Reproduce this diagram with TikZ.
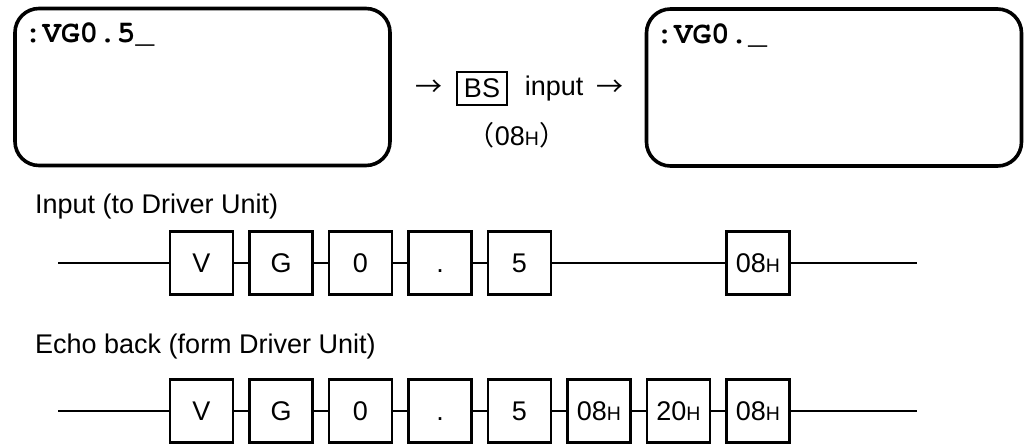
\documentclass[tikz,border=0pt]{standalone}
\usepackage{fontspec}
\setmainfont{Liberation Sans}
\newfontfamily\lcdfont{TeX Gyre Cursor}
\newfontfamily\cjk{Noto Sans CJK JP}
\usetikzlibrary{positioning}
\newcommand{\hexnum}[1]{#1{\fontsize{19.5}{19.5}\selectfont H}}

\begin{document}
\begin{tikzpicture}[
  x=1pt, y=-1pt,
  node distance=16.5pt,
  every node/.style={font=\fontsize{27}{30}\selectfont, inner sep=0pt},
  screen/.style={draw, line width=3.6pt, rounded corners=24pt, minimum width=375pt, minimum height=157pt},
  lcd/.style={font=\lcdfont\bfseries\fontsize{31}{31}\selectfont, anchor=base west},
  byte/.style={draw, line width=2.2pt, outer sep=0pt, minimum width=63pt, minimum height=63pt, text height=19pt, text depth=0pt},
  wire/.style={line width=2pt}
]
\useasboundingbox (0,0) rectangle (1031,445);

% display before and after BS
\node[screen] (before) at (202.5,87) {};
\node[screen] (after) at (834,87.5) {};
\node[lcd] (beforetxt) at ([xshift=10.5pt,yshift=-36pt]before.north west) {:VG0.5\_};
\node[lcd] (aftertxt) at ([xshift=10.5pt,yshift=-36pt]after.north west) {:VG0.\_};

\node[draw, line width=1.2pt, minimum width=50pt, minimum height=33pt] (bs) at (482,88.5) {BS};
\node (arrin) [left=14pt of bs] {\cjk →};
\node (inp) [right=17pt of bs] {input};
\node (arrout) [right=13pt of inp] {\cjk →};
\node (bscode) at (517,135) {{\cjk （}\hexnum{08}{\cjk ）}};

% input
\node[anchor=base west] (inlabel) at (35,213) {Input (to Driver Unit)};
\coordinate (inL) at (58,263);
\coordinate (inR) at (917,263);
\node[byte] (i1) at (201.5,263) {V};
\node[byte, right=of i1] (i2) {G};
\node[byte, right=of i2] (i3) {0};
\node[byte, right=of i3] (i4) {.};
\node[byte, right=of i4] (i5) {5};
\node[byte] (i6) at (758,263) {\hexnum{08}};
\draw[wire] (inL) -- (i1);
\draw[wire] (i1) -- (i2);
\draw[wire] (i2) -- (i3);
\draw[wire] (i3) -- (i4);
\draw[wire] (i4) -- (i5);
\draw[wire] (i5) -- (i6);
\draw[wire] (i6) -- (inR);

% echo back
\node[anchor=base west] (echolabel) at (35,353) {Echo back (form Driver Unit)};
\coordinate (echoL) at (58,411);
\coordinate (echoR) at (917,411);
\node[byte] (e1) at (201.5,411) {V};
\node[byte, right=of e1] (e2) {G};
\node[byte, right=of e2] (e3) {0};
\node[byte, right=of e3] (e4) {.};
\node[byte, right=of e4] (e5) {5};
\node[byte, right=of e5] (e6) {\hexnum{08}};
\node[byte, right=of e6] (e7) {\hexnum{20}};
\node[byte, right=of e7] (e8) {\hexnum{08}};
\draw[wire] (echoL) -- (e1);
\draw[wire] (e1) -- (e2);
\draw[wire] (e2) -- (e3);
\draw[wire] (e3) -- (e4);
\draw[wire] (e4) -- (e5);
\draw[wire] (e5) -- (e6);
\draw[wire] (e6) -- (e7);
\draw[wire] (e7) -- (e8);
\draw[wire] (e8) -- (echoR);
\end{tikzpicture}
\end{document}
